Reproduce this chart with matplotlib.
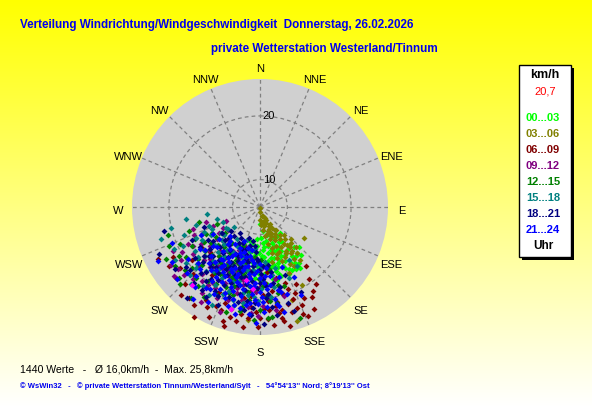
import numpy as np
import matplotlib.pyplot as plt
from matplotlib.colors import LinearSegmentedColormap
from matplotlib.patches import Rectangle

# =========================
# Daten: (Richtung in Grad, Geschwindigkeit km/h) je 3-Stunden-Block
# =========================
pts_00_03 = [(180, 8.3), (172, 9.5), (165, 10.2), (158, 10.8), (150, 11.0), (143, 10.9), (148, 12.1),
             (155, 12.6), (162, 12.9), (170, 13.1), (176, 12.4), (184, 11.8), (190, 12.7), (196, 11.2),
             (197, 13.6), (188, 14.5), (180, 14.2), (173, 14.8), (166, 15.1), (160, 14.6), (153, 14.2),
             (146, 13.7), (140, 13.9), (136, 14.5), (144, 15.3), (151, 15.8), (158, 16.1), (164, 16.6),
             (171, 15.9), (177, 16.3), (184, 16.8), (191, 15.6), (199, 15.2), (205, 14.4), (210, 15.8),
             (186, 13.3), (168, 12.0), (161, 11.7), (154, 13.4), (147, 14.8), (139, 15.6), (145, 16.5),
             (150, 17.0), (157, 17.2), (167, 17.4), (175, 17.8), (182, 15.2), (193, 14.1), (202, 16.6),
             (170, 11.2), (178, 10.6), (160, 13.5), (165, 14.0), (172, 14.3), (155, 15.0),
             (170, 15.2), (163, 15.6), (157, 14.0), (150, 14.0), (143, 13.2), (168, 13.9), (175, 13.6),
             (181, 13.0), (162, 15.0), (155, 16.4), (148, 16.0), (141, 15.0), (179, 15.0), (186, 15.6),
             (192, 13.0), (174, 12.0), (160, 12.2), (152, 12.0), (166, 16.0), (158, 13.0),
             (185, 10.8), (190, 11.6), (195, 12.4), (200, 13.4), (203, 12.0), (188, 13.8), (183, 14.8),
             (178, 13.4), (174, 16.0), (170, 17.2), (163, 17.0), (181, 16.2), (187, 15.0), (194, 16.6),
             (199, 14.2), (176, 11.4), (166, 12.6), (159, 15.6), (153, 16.8), (147, 17.2)]
pts_03_06 = [(180, 5.9), (175, 6.5), (170, 7.2), (178, 7.8), (165, 7.9), (160, 8.4), (168, 8.8),
             (155, 9.0), (150, 8.7), (162, 9.6), (157, 10.2), (151, 10.5), (146, 10.1), (170, 10.4),
             (163, 11.0), (155, 11.4), (148, 11.6), (142, 12.0), (158, 12.3), (152, 12.8), (145, 13.0),
             (139, 13.2), (160, 13.5), (149, 13.7), (144, 14.2), (154, 14.5), (141, 15.0), (147, 15.5),
             (152, 15.8), (158, 14.9), (163, 12.4), (167, 11.6), (173, 9.4), (176, 8.6), (145, 11.1),
             (140, 11.5), (136, 12.6), (150, 9.5), (155, 7.6), (165, 13.2), (168, 14.6), (125, 14.2),
             (152, 19.6), (161, 21.1), (162, 24.6), (186, 23.5), (150, 16.4), (156, 17.0), (143, 16.2),
             (160, 10.6), (153, 11.0), (147, 12.6), (157, 13.4), (150, 14.0), (162, 14.2), (146, 14.5),
             (143, 13.6), (138, 14.2), (166, 10.0), (172, 8.2), (154, 8.0), (148, 10.0), (162, 7.2),
             (158, 9.4)]
pts_06_09 = [(173, 24.3), (168, 22.2), (170, 22.6), (211, 25.8), (195, 23.6), (142, 17.5), (148, 21.3),
             (237, 22.8), (222, 24.3), (210, 22.6), (167, 17.1), (204, 22.8), (175, 20.5), (165, 19.8),
             (160, 21.0), (172, 19.0), (178, 21.8), (163, 23.0), (157, 22.5), (180, 23.2), (185, 21.4),
             (190, 20.2), (200, 19.5), (215, 18.8), (225, 20.6), (232, 19.2), (240, 21.4), (228, 16.2),
             (233, 21.5), (230, 23.0), (218, 23.9), (205, 24.7), (155, 19.0), (152, 23.8), (146, 19.4),
             (162, 18.2), (176, 17.6), (183, 18.8), (195, 17.2), (208, 16.5), (220, 15.8), (235, 16.9),
             (200, 21.8), (188, 24.8), (166, 24.9), (158, 20.2), (174, 15.9), (196, 14.9), (243, 23.6),
             (170, 20.8), (176, 23.4), (182, 22.2), (164, 21.6), (158, 23.8), (190, 22.8), (198, 24.6),
             (172, 18.0), (168, 24.0), (186, 19.8), (154, 21.6), (161, 19.4), (206, 20.5), (214, 24.2),
             (224, 22.6),
             (178, 19.6), (181, 24.6), (186, 23.2), (192, 24.0), (169, 23.4), (175, 22.0), (160, 22.6),
             (156, 24.4), (150, 22.0), (144, 20.6), (201, 23.0), (197, 25.2), (208, 23.4), (183, 20.6),
             (171, 21.4)]
pts_09_12 = [(255, 14.5), (247, 11.5), (236, 20.6), (240, 17.9), (230, 16.2), (222, 15.0), (215, 17.1),
             (208, 18.8), (200, 16.4), (195, 19.6), (212, 13.8), (225, 12.9), (233, 14.1), (245, 15.8),
             (228, 21.7), (218, 20.4), (205, 21.5), (198, 13.4), (190, 15.8), (185, 17.6), (210, 15.6),
             (220, 18.0), (238, 13.3), (243, 21.0), (226, 19.1), (214, 21.9), (203, 14.6), (192, 18.3),
             (235, 18.6), (219, 13.2), (207, 16.9), (231, 23.0), (182, 20.5), (196, 22.4), (240, 12.4),
             (212, 19.7), (224, 17.0), (201, 18.0), (188, 13.9), (178, 16.7), (234, 11.9), (237, 22.4),
             (252, 16.7), (233, 21.8), (248, 13.6),
             (204, 17.6), (209, 20.2), (216, 16.2), (221, 19.6), (227, 17.8), (232, 15.6), (238, 16.6),
             (197, 17.2), (191, 20.6), (186, 19.0), (180, 18.2), (199, 21.2), (211, 17.0), (217, 14.4),
             (223, 21.2), (229, 13.6), (243, 18.4), (247, 17.0), (206, 13.2), (194, 15.0), (212, 23.2),
             (201, 23.4), (185, 22.4), (175, 19.6), (240, 19.9),
             (168, 17.2), (174, 20.2), (179, 15.4), (183, 19.0), (187, 21.6), (190, 14.0), (193, 17.4),
             (196, 19.0), (201, 15.2), (205, 18.8), (171, 22.0), (178, 21.2), (185, 14.8), (199, 12.4),
             (210, 14.4), (214, 20.4), (218, 17.6), (165, 20.2), (181, 22.8), (189, 16.6)]
pts_12_15 = [(251, 17.5), (226, 23.2), (245, 19.5), (238, 16.0), (230, 18.5), (222, 20.8), (215, 15.4),
             (208, 17.8), (200, 20.0), (193, 16.7), (235, 21.9), (242, 14.3), (249, 13.0), (228, 14.6),
             (218, 12.9), (205, 14.8), (212, 22.4), (198, 23.0), (188, 19.2), (183, 14.5), (220, 17.2),
             (233, 12.6), (241, 22.6), (210, 19.6), (195, 13.6), (225, 16.4), (236, 19.8), (203, 12.4),
             (214, 18.2), (230, 21.1), (190, 21.7), (178, 18.1), (207, 21.0), (223, 13.9), (244, 17.1),
             (199, 17.6), (186, 16.1), (234, 15.2), (160, 24.2), (176, 23.1), (168, 19.5), (256, 15.5),
             (247, 21.2), (253, 20.8), (217, 23.6),
             (205, 17.0), (210, 16.2), (215, 19.8), (220, 15.8), (225, 18.6), (231, 16.8), (236, 14.0),
             (198, 18.8), (192, 16.0), (187, 20.4), (181, 17.0), (203, 19.4), (213, 14.4), (218, 21.4),
             (228, 20.0), (240, 18.0), (244, 15.2), (200, 15.2), (195, 21.6), (184, 18.6), (174, 20.6),
             (208, 12.6), (229, 22.6), (239, 20.6), (222, 14.2),
             (167, 18.2), (172, 15.6), (176, 19.8), (180, 21.8), (184, 16.0), (188, 18.2), (191, 22.4),
             (194, 14.6), (197, 20.2), (202, 17.6), (206, 15.4), (211, 18.0), (170, 21.0), (179, 14.0),
             (186, 13.6), (198, 16.2), (215, 16.4), (163, 18.6), (174, 23.0), (183, 23.4)]
pts_15_18 = [(261, 17.5), (254, 16.1), (236, 13.1), (236, 11.8), (148, 16.7), (245, 14.0), (250, 18.4),
             (240, 16.2), (230, 15.0), (225, 12.4), (218, 14.2), (212, 16.5), (205, 13.0), (198, 15.1),
             (228, 17.3), (243, 19.3), (257, 20.1), (233, 20.2), (220, 18.9), (210, 19.8), (200, 18.2),
             (193, 12.8), (215, 11.9), (248, 12.0), (238, 21.4), (222, 22.0), (206, 22.8), (190, 17.0),
             (184, 19.8), (262, 14.1), (252, 22.0), (232, 10.9), (226, 19.6), (216, 21.0), (202, 11.3),
             (244, 16.8), (236, 18.0), (211, 14.0), (196, 20.9), (180, 15.4), (170, 18.4), (158, 17.8),
             (151, 15.2), (229, 13.7), (255, 12.7),
             (203, 16.4), (208, 18.4), (213, 17.4), (218, 16.8), (223, 15.4), (228, 19.0), (233, 16.8),
             (240, 14.6), (246, 15.4), (250, 14.2), (196, 17.8), (191, 19.4), (186, 15.6), (200, 19.8),
             (210, 21.6), (216, 18.2), (221, 13.2), (226, 21.0), (232, 12.8), (238, 12.0), (205, 11.9),
             (199, 13.6), (244, 20.8), (178, 17.4), (231, 18.2),
             (170, 16.6), (175, 14.4), (179, 18.6), (184, 14.8), (188, 19.6), (192, 15.8), (196, 14.2),
             (201, 17.0), (206, 16.0), (211, 12.8), (216, 15.2), (221, 17.0), (187, 12.4), (195, 11.8),
             (181, 20.4), (166, 15.6), (203, 20.6), (224, 13.8), (173, 20.0), (190, 21.0)]
pts_18_21 = [(230, 16.0), (222, 17.5), (215, 14.0), (208, 15.5), (200, 17.0), (195, 14.2), (188, 16.0),
             (182, 18.5), (176, 20.0), (170, 17.8), (205, 19.2), (212, 18.0), (218, 16.2), (225, 14.6),
             (232, 18.6), (238, 15.4), (215, 21.6), (203, 22.5), (193, 21.0), (185, 22.8), (198, 12.6),
             (210, 12.2), (222, 11.8), (235, 12.9), (190, 19.0), (208, 20.6), (220, 19.0), (202, 14.9),
             (196, 18.4), (213, 16.8), (227, 13.2), (183, 13.8), (172, 14.9), (206, 17.5), (187, 11.9),
             (200, 10.8), (217, 10.9), (228, 20.4), (192, 16.9), (179, 16.2), (256, 21.2), (219, 24.0),
             (178, 24.1), (160, 17.0), (154, 20.5), (162, 22.9), (234, 22.2), (245, 23.2), (250, 15.0),
             (244, 17.6),
             (204, 15.8), (209, 16.8), (214, 19.4), (219, 17.9), (224, 16.3), (229, 17.4), (234, 14.8),
             (197, 15.5), (192, 14.6), (186, 17.4), (181, 15.6), (176, 18.2), (199, 20.6), (205, 21.2),
             (211, 22.2), (216, 20.0), (221, 21.6), (226, 18.2), (231, 20.6), (236, 17.0), (194, 12.0),
             (203, 12.9), (212, 11.4), (219, 13.4), (189, 22.0), (183, 20.8), (196, 16.4), (207, 14.0),
             (225, 12.6), (231, 11.6),
             (166, 18.6), (170, 16.0), (173, 21.6), (177, 15.0), (180, 17.6), (184, 21.6), (187, 15.0),
             (190, 18.0), (193, 19.8), (197, 13.4), (201, 18.4), (204, 14.2), (207, 16.2), (210, 19.0),
             (213, 15.0), (216, 17.4), (219, 15.0), (222, 19.6), (175, 19.4), (182, 14.2), (188, 20.6),
             (195, 17.0), (199, 15.8), (185, 12.8), (192, 11.2), (164, 21.4), (171, 22.8), (178, 17.0),
             (205, 12.0), (226, 16.8)]
pts_21_24 = [(200, 15.0), (205, 16.5), (210, 17.4), (215, 15.8), (220, 14.8), (225, 16.6), (230, 15.3),
             (195, 16.0), (190, 17.6), (185, 19.4), (180, 16.9), (175, 18.6), (198, 19.6), (203, 18.2),
             (208, 14.0), (213, 19.5), (218, 18.3), (223, 20.5), (228, 18.9), (192, 13.5), (197, 12.4),
             (214, 12.8), (226, 12.2), (188, 21.2), (193, 23.0), (201, 21.0), (209, 22.7), (216, 23.5),
             (178, 22.2), (212, 15.2), (206, 12.9), (219, 16.9), (232, 13.8), (199, 17.4), (186, 14.6),
             (183, 20.3), (196, 20.8), (204, 13.6), (211, 20.8), (221, 13.3), (207, 19.0), (191, 15.2),
             (235, 17.2), (240, 14.2), (245, 16.0), (229, 23.0), (182, 24.0), (186, 22.6), (154, 18.0),
             (155, 21.0), (170, 21.2), (166, 19.5), (160, 15.8), (238, 22.0), (248, 20.6), (242, 23.8),
             (202, 16.0), (207, 17.8), (212, 18.6), (217, 16.0), (222, 17.6), (227, 15.0), (232, 16.6),
             (194, 18.4), (189, 16.4), (184, 17.6), (179, 19.8), (197, 14.6), (202, 20.2), (208, 21.2),
             (214, 21.0), (219, 21.8), (224, 19.2), (205, 11.6), (210, 14.6), (216, 13.8), (222, 12.8),
             (198, 22.0), (192, 20.0), (187, 18.2), (181, 21.0), (176, 16.6), (213, 17.0), (200, 13.2),
             (228, 21.2), (234, 19.6),
             (165, 17.0), (168, 19.0), (171, 20.4), (174, 15.4), (177, 17.6), (180, 19.0), (183, 15.8),
             (186, 20.8), (189, 14.2), (192, 18.8), (195, 21.6), (198, 16.8), (201, 14.0), (190, 12.6),
             (172, 16.6), (176, 21.4), (180, 14.6), (184, 18.2), (188, 17.0), (194, 15.4), (197, 18.0),
             (200, 19.0), (203, 16.8), (206, 20.0), (209, 15.6), (212, 16.4), (215, 17.8), (169, 21.6),
             (173, 18.0), (178, 20.6), (185, 16.2), (191, 21.8), (196, 13.8), (163, 20.0), (167, 22.6)]
pts_magenta = [(221, 22.0), (191, 17.3), (196, 22.3), (185, 18.6)]

block_labels = ['00...03', '03...06', '06...09', '09...12', '12...15', '15...18', '18...21', '21...24']
block_colors = ['#00ff00', '#808000', '#800000', '#800080', '#008000', '#008080', '#000080', '#0000ff']
blocks = [pts_00_03, pts_03_06, pts_06_09, pts_09_12, pts_12_15, pts_15_18, pts_18_21, pts_21_24]

directions = ['N', 'NNE', 'NE', 'ENE', 'E', 'ESE', 'SE', 'SSE',
              'S', 'SSW', 'SW', 'WSW', 'W', 'WNW', 'NW', 'NNW']
ring_values = [10, 20]
v_min, v_max = 5.7, 25.8
current_value = '20,7'

title = 'Verteilung Windrichtung/Windgeschwindigkeit  Donnerstag, 26.02.2026'
subtitle = 'private Wetterstation Westerland/Tinnum'
stats_text = '1440 Werte   -   \u00d8 16,0km/h  -  Max. 25,8km/h'
footer = ("\u00a9 WsWin32   -   \u00a9 private Wetterstation Tinnum/Westerland/Sylt   -   "
          "54\u00b054'13'' Nord; 8\u00b019'13'' Ost")

# =========================
# Figure
# =========================
W, H = 592, 407
fig = plt.figure(figsize=(W / 100, H / 100), dpi=100)
plain = ['Liberation Sans', 'DejaVu Sans']

# background gradient (yellow -> white)
bg = fig.add_axes([0, 0, 1, 1])
bg.axis('off')
cmap = LinearSegmentedColormap.from_list('gelb', ['#ffff00', '#ffffff'])
bg.imshow(np.linspace(0, 1, 256).reshape(-1, 1), cmap=cmap, aspect='auto',
          extent=[0, 1, 0, 1], origin='upper')

# polar plot
cx, cy, R = 260, 207, 128
ax = fig.add_axes([(cx - R) / W, 1 - (cy + R) / H, 2 * R / W, 2 * R / H], projection='polar')
ax.set_theta_zero_location('N')
ax.set_theta_direction(-1)
ax.set_facecolor('#d0d0d0')
ax.set_ylim(v_min, v_max)
ax.set_xticks(np.deg2rad(np.arange(0, 360, 22.5)))
ax.set_xticklabels([])
ax.set_yticks(ring_values)
ax.set_yticklabels([])
ax.grid(True, color='#808080', linestyle=(0, (3, 2.5)), linewidth=0.9)
ax.spines['polar'].set_visible(False)
ax.set_axisbelow(True)
ax.tick_params(length=0)

for pts, col in zip(blocks, block_colors):
    d, v = np.array(pts).T
    ax.scatter(np.deg2rad(d), v, s=9, marker='D', color=col, linewidths=0, clip_on=False)
d, v = np.array(pts_magenta).T
ax.scatter(np.deg2rad(d), v, s=9, marker='D', color='#ff00ff', linewidths=0)

for rv in ring_values:
    ax.annotate(str(rv), xy=(0, rv), xytext=(2, 0), textcoords='offset points',
                ha='left', va='center', fontsize=8, family=plain)

# direction labels around the disc
for i, name in enumerate(directions):
    a = np.deg2rad(i * 22.5)
    x = 260 + 142 * np.sin(a)
    y = 211 - 142 * np.cos(a)
    fig.text(x / W, 1 - y / H, name, ha='center', va='center', fontsize=8, family=plain)

# titles
fig.text(20 / W, 1 - 25 / H, title, ha='left', va='center', fontsize=8.4,
         weight='bold', color='#0000ee', family=plain)
fig.text(211 / W, 1 - 49 / H, subtitle, ha='left', va='center', fontsize=8.4,
         weight='bold', color='#0000ee', family=plain)

# legend box with shadow
fig.patches.append(Rectangle((522 / W, 1 - 260 / H), 52 / W, 192 / H, transform=fig.transFigure,
                             facecolor='black', edgecolor='none'))
fig.patches.append(Rectangle((519 / W, 1 - 257 / H), 52 / W, 192 / H, transform=fig.transFigure,
                             facecolor='white', edgecolor='black', linewidth=1))
fig.text(545 / W, 1 - 75 / H, 'km/h', ha='center', va='center', fontsize=9, weight='bold', family=plain)
fig.text(545 / W, 1 - 91 / H, current_value, ha='center', va='center', fontsize=8,
         color='red', family=plain)
for i, (lab, col) in enumerate(zip(block_labels, block_colors)):
    fig.text(543 / W, 1 - (118 + 16 * i) / H, lab, ha='center', va='center', fontsize=8,
             weight='bold', color=col, family=plain)
fig.text(543 / W, 1 - 246 / H, 'Uhr', ha='center', va='center', fontsize=8.5, weight='bold', family=plain)

# bottom texts
fig.text(20 / W, 1 - 369 / H, stats_text, ha='left', va='center', fontsize=7.6, family=plain)
fig.text(20 / W, 1 - 386 / H, footer, ha='left', va='center', fontsize=5.5,
         weight='bold', color='#0000ee', family=plain)

fig.savefig('out.png', dpi=100)
